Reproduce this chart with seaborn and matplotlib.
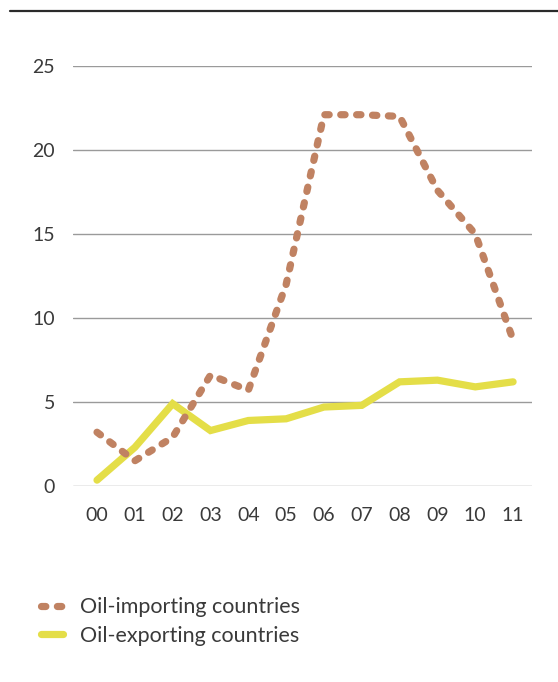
import numpy as np
import pandas as pd
import matplotlib
matplotlib.use("Agg")
import matplotlib.pyplot as plt
import seaborn as sns
from matplotlib.lines import Line2D

# ------------------ DATA ------------------
years = ["00", "01", "02", "03", "04", "05", "06", "07", "08", "09", "10", "11"]
importing = [3.2, 1.5, 2.9, 6.6, 5.7, 12.0, 22.1, 22.1, 22.0, 17.6, 15.0, 8.7]
exporting = [0.35, 2.3, 4.9, 3.3, 3.9, 4.0, 4.7, 4.8, 6.2, 6.3, 5.9, 6.2]
yticks = [0, 5, 10, 15, 20, 25]

BROWN = "#C08262"
YELLOW = "#E4DE48"
TEXT = "#3a3a3a"
DOTS = (0, (0.6, 1.6))

# ------------------ PLOT ------------------
sns.set_style("white")
plt.rcParams["font.family"] = ["Lato", "DejaVu Sans"]

fig = plt.figure(figsize=(5.58, 6.82), dpi=100)
W, H = 558, 682
ax = fig.add_axes([73 / W, 1 - 486 / H, (532 - 73) / W, (486 - 66) / H])

df = pd.DataFrame({"x": np.arange(len(years)), "imp": importing, "exp": exporting})

sns.lineplot(data=df, x="x", y="exp", ax=ax, color=YELLOW, lw=5.2,
             solid_capstyle="round", solid_joinstyle="miter", zorder=3)
sns.lineplot(data=df, x="x", y="imp", ax=ax, color=BROWN, lw=5.2,
             linestyle=DOTS, dash_capstyle="round", zorder=4)

ax.set_xlim(-0.635, 11.5)
ax.set_ylim(0, 25)
ax.set_yticks(yticks)
ax.set_yticklabels([str(t) for t in yticks])
ax.set_xticks(range(len(years)))
ax.set_xticklabels(years)
ax.tick_params(axis="both", length=0, labelsize=14, colors=TEXT)
ax.tick_params(axis="y", pad=13)
ax.tick_params(axis="x", pad=15)
ax.set_xlabel("")
ax.set_ylabel("")
ax.grid(axis="y", color="#9a9a9a", lw=1)
ax.grid(axis="x", visible=False)
for s in ax.spines.values():
    s.set_visible(False)

# top rule
fig.add_artist(Line2D([10 / W, 1.0], [1 - 11 / H, 1 - 11 / H], color="#2a2a2a", lw=1.6))

# legend
handles = [
    Line2D([], [], color=BROWN, lw=5.2, linestyle=DOTS, dash_capstyle="round"),
    Line2D([], [], color=YELLOW, lw=5.2, solid_capstyle="round"),
]
fig.legend(handles, ["Oil-importing countries", "Oil-exporting countries"],
           loc="upper left", bbox_to_anchor=(22 / W, 1 - 578 / H), frameon=False,
           fontsize=15.5, handlelength=1.0, handletextpad=0.8, labelspacing=0.4,
           labelcolor=TEXT)

fig.savefig("out.png", dpi=100)
